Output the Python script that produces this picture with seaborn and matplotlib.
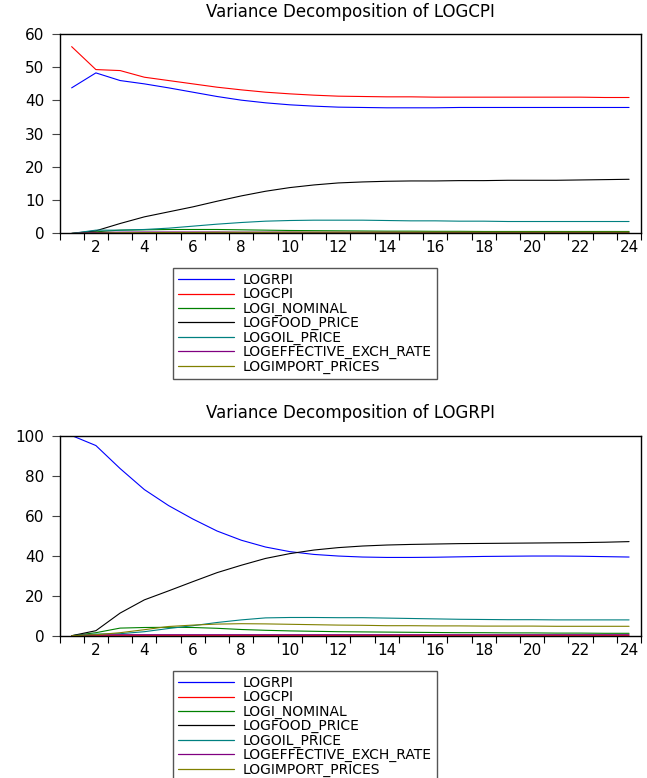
import matplotlib
matplotlib.use("Agg")
import matplotlib.pyplot as plt
import seaborn as sns
import pandas as pd
import numpy as np
from matplotlib.ticker import FixedLocator, NullFormatter

periods = list(range(1, 25))
series_names = ["LOGRPI", "LOGCPI", "LOGI_NOMINAL", "LOGFOOD_PRICE",
                "LOGOIL_PRICE", "LOGEFFECTIVE_EXCH_RATE", "LOGIMPORT_PRICES"]
colors = ["#0000FF", "#FF0000", "#008000", "#000000", "#008080", "#800080", "#808000"]
x_tick_labels = [str(v) for v in range(2, 25, 2)]

# Variance decomposition of LOGCPI
cpi_logrpi = [43.8, 48.3, 46.0, 45.0, 43.8, 42.5, 41.2, 40.1, 39.3, 38.7, 38.3, 38.0,
              37.9, 37.8, 37.8, 37.8, 37.9, 37.9, 37.9, 37.9, 37.9, 37.9, 37.9, 37.9]
cpi_logcpi = [56.2, 49.3, 49.0, 47.0, 46.0, 45.0, 44.0, 43.2, 42.5, 42.0, 41.6, 41.3,
              41.2, 41.1, 41.1, 41.0, 41.0, 41.0, 41.0, 41.0, 41.0, 41.0, 40.9, 40.9]
cpi_logi_nominal = [0.0, 0.5, 1.0, 1.1, 1.2, 1.2, 1.2, 1.1, 1.0, 0.9, 0.85, 0.8,
                    0.75, 0.7, 0.7, 0.65, 0.65, 0.6, 0.6, 0.6, 0.6, 0.6, 0.6, 0.6]
cpi_logfood = [0.0, 0.8, 3.0, 5.0, 6.5, 8.0, 9.7, 11.3, 12.7, 13.8, 14.6, 15.2,
               15.5, 15.7, 15.8, 15.8, 15.9, 15.9, 16.0, 16.0, 16.0, 16.1, 16.2, 16.3]
cpi_logoil = [0.0, 1.0, 1.0, 1.2, 1.6, 2.2, 2.8, 3.3, 3.7, 3.9, 4.0, 4.0,
              4.0, 3.9, 3.8, 3.8, 3.7, 3.7, 3.6, 3.6, 3.6, 3.6, 3.6, 3.6]
cpi_logeffective = [0.0, 0.3, 0.4, 0.45, 0.45, 0.45, 0.45, 0.4, 0.4, 0.4, 0.35, 0.35,
                    0.35, 0.35, 0.3, 0.3, 0.3, 0.3, 0.3, 0.3, 0.3, 0.3, 0.3, 0.3]
cpi_logimport = [0.0, 0.1, 0.2, 0.25, 0.3, 0.3, 0.35, 0.35, 0.35, 0.4, 0.4, 0.4,
                 0.4, 0.4, 0.4, 0.4, 0.4, 0.4, 0.4, 0.4, 0.4, 0.4, 0.4, 0.4]

# Variance decomposition of LOGRPI
rpi_logrpi = [100.0, 95.0, 83.5, 73.0, 65.0, 58.3, 52.3, 47.7, 44.3, 42.0, 40.6, 39.8,
              39.3, 39.1, 39.1, 39.2, 39.4, 39.6, 39.7, 39.8, 39.8, 39.7, 39.5, 39.3]
rpi_logcpi = [0.0, 0.2, 0.2, 0.2, 0.2, 0.2, 0.2, 0.2, 0.2, 0.2, 0.2, 0.2,
              0.2, 0.2, 0.2, 0.2, 0.2, 0.2, 0.2, 0.2, 0.2, 0.2, 0.2, 0.2]
rpi_logi_nominal = [0.0, 1.5, 3.8, 4.1, 4.2, 4.1, 3.7, 3.1, 2.7, 2.4, 2.2, 2.0,
                    1.9, 1.8, 1.7, 1.6, 1.5, 1.5, 1.4, 1.4, 1.3, 1.3, 1.2, 1.2]
rpi_logfood = [0.0, 2.5, 11.3, 17.9, 22.4, 27.0, 31.5, 35.2, 38.6, 41.0, 42.8, 44.0,
               44.8, 45.3, 45.6, 45.8, 46.0, 46.1, 46.2, 46.3, 46.4, 46.5, 46.7, 47.0]
rpi_logoil = [0.0, 0.8, 1.0, 2.0, 3.6, 5.0, 6.6, 7.9, 8.9, 9.1, 9.1, 9.0,
              9.0, 8.8, 8.6, 8.4, 8.2, 8.1, 8.0, 8.0, 7.9, 7.9, 7.9, 7.9]
rpi_logeffective = [0.0, 0.4, 0.5, 0.5, 0.5, 0.5, 0.5, 0.5, 0.5, 0.5, 0.5, 0.5,
                    0.5, 0.5, 0.5, 0.5, 0.5, 0.5, 0.5, 0.5, 0.5, 0.5, 0.5, 0.5]
rpi_logimport = [0.0, 0.5, 1.5, 3.0, 4.6, 5.3, 5.8, 6.0, 5.9, 5.7, 5.5, 5.3,
                 5.2, 5.0, 5.0, 4.9, 4.9, 4.8, 4.8, 4.8, 4.7, 4.7, 4.7, 4.7]

cpi_series = [cpi_logrpi, cpi_logcpi, cpi_logi_nominal, cpi_logfood,
              cpi_logoil, cpi_logeffective, cpi_logimport]
rpi_series = [rpi_logrpi, rpi_logcpi, rpi_logi_nominal, rpi_logfood,
              rpi_logoil, rpi_logeffective, rpi_logimport]


def long_frame(series):
    rows = []
    for name, vals in zip(series_names, series):
        for p, v in zip(periods, vals):
            rows.append({"Period": p, "Series": name, "Value": v})
    return pd.DataFrame(rows)


sns.set_theme(style="white")
plt.rcParams["font.family"] = ["DejaVu Sans"]
plt.rcParams["text.color"] = "black"
plt.rcParams["axes.titlecolor"] = "black"

fig = plt.figure(figsize=(6.47, 7.78), dpi=100)
ax1 = fig.add_axes([0.092, 0.6999, 0.899, 0.2564])
ax2 = fig.add_axes([0.092, 0.1829, 0.899, 0.2573])

palette = dict(zip(series_names, colors))

for ax, series, title, ymax, yticks, ltop in [
        (ax1, cpi_series, "Variance Decomposition of LOGCPI", 60, [0, 10, 20, 30, 40, 50, 60], 0.656),
        (ax2, rpi_series, "Variance Decomposition of LOGRPI", 100, [0, 20, 40, 60, 80, 100], 0.138)]:
    df = long_frame(series)
    sns.lineplot(data=df, x="Period", y="Value", hue="Series", hue_order=series_names,
                 palette=palette, linewidth=0.8, ax=ax, legend=False)
    ax.set_xlim(0.5, 24.5)
    ax.set_ylim(0, ymax)
    ax.set_xlabel("")
    ax.set_ylabel("")
    ax.set_title(title, fontsize=12, pad=12.5, color="black")
    ax.xaxis.set_major_locator(FixedLocator(np.arange(0.5, 25, 1.0)))
    ax.xaxis.set_major_formatter(NullFormatter())
    ax.set_xticks(list(range(2, 25, 2)), minor=True)
    ax.set_xticklabels(x_tick_labels, minor=True)
    ax.tick_params(axis="x", which="major", direction="out", length=5, width=0.8,
                   color="black", bottom=True)
    ax.tick_params(axis="x", which="minor", length=0, labelsize=11, pad=5, bottom=True,
                   labelcolor="black")
    ax.set_yticks(yticks)
    ax.set_yticklabels([str(v) for v in yticks])
    ax.tick_params(axis="y", direction="out", length=6, width=0.8, color="#444444",
                   labelsize=11, pad=5, left=True, labelcolor="black")
    for s in ax.spines.values():
        s.set_color("black")
        s.set_linewidth(1.0)
    ax.grid(False)

    handles = [plt.Line2D([], [], color=c, linewidth=0.9) for c in colors]
    leg = fig.legend(handles, series_names, loc="upper left", bbox_to_anchor=(0.267, ltop),
                     frameon=True, fancybox=False, edgecolor="#555555", framealpha=1,
                     fontsize=10, handlelength=4.0, handletextpad=0.6, labelspacing=0.02,
                     borderpad=0.4, borderaxespad=0)
    for t in leg.get_texts():
        t.set_color("black")

fig.savefig("out.png", dpi=100)
